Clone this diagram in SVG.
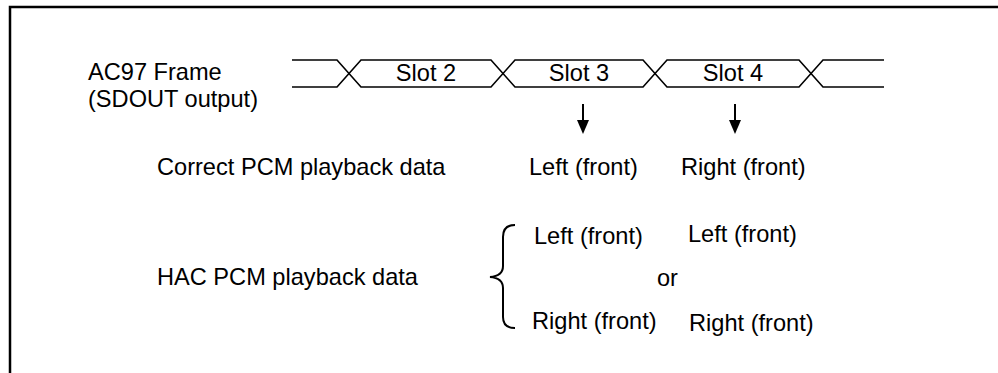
<svg xmlns="http://www.w3.org/2000/svg" width="998" height="373" viewBox="0 0 998 373">
<defs>
<style>
.t{font-family:"Liberation Sans",Arial,sans-serif;font-size:23.6px;fill:#000}
.m{text-anchor:middle}
.w{fill:none;stroke:#000;stroke-width:1.6;stroke-linejoin:miter}
.a{fill:none;stroke:#000;stroke-width:2}
.h{fill:#000;stroke:none}
</style>
</defs>
<rect x="10" y="7" width="1000" height="400" fill="none" stroke="#000" stroke-width="2.5"/>
<g id="labels">
<text class="t" x="88" y="80">AC97 Frame</text>
<text class="t" x="88" y="107">(SDOUT output)</text>
</g>
<g id="frame">
<path class="w" d="M292,60 H337 L361,87 H491 L515,60 H643 L667,87 H799 L823,60 H884"/>
<path class="w" d="M292,87 H337 L361,60 H491 L515,87 H643 L667,60 H799 L823,87 H884"/>
</g>
<g id="slot2"><text class="t m" x="426" y="81">Slot 2</text></g>
<g id="slot3"><text class="t m" x="579" y="81">Slot 3</text></g>
<g id="slot4"><text class="t m" x="733" y="81">Slot 4</text></g>
<g id="connectors">
<line class="a" x1="583" y1="104" x2="583" y2="124"/>
<path class="h" d="M577,120 L589,120 L583,134 z"/>
<line class="a" x1="735" y1="104" x2="735" y2="124"/>
<path class="h" d="M729,120 L741,120 L735,134 z"/>
<path class="a" d="M515,225 Q503,225 503,237 V266 Q503,276 490,277 Q503,278 503,288 V317 Q503,328 515,328"/>
</g>
<g id="correct">
<text class="t" x="157" y="175">Correct PCM playback data</text>
<text class="t" x="529" y="175">Left (front)</text>
<text class="t" x="681" y="175">Right (front)</text>
</g>
<g id="hac">
<text class="t" x="157" y="285">HAC PCM playback data</text>
<text class="t" x="534" y="244">Left (front)</text>
<text class="t" x="688" y="242">Left (front)</text>
<text class="t" x="657" y="286">or</text>
<text class="t" x="532" y="329">Right (front)</text>
<text class="t" x="689" y="331">Right (front)</text>
</g>
</svg>
